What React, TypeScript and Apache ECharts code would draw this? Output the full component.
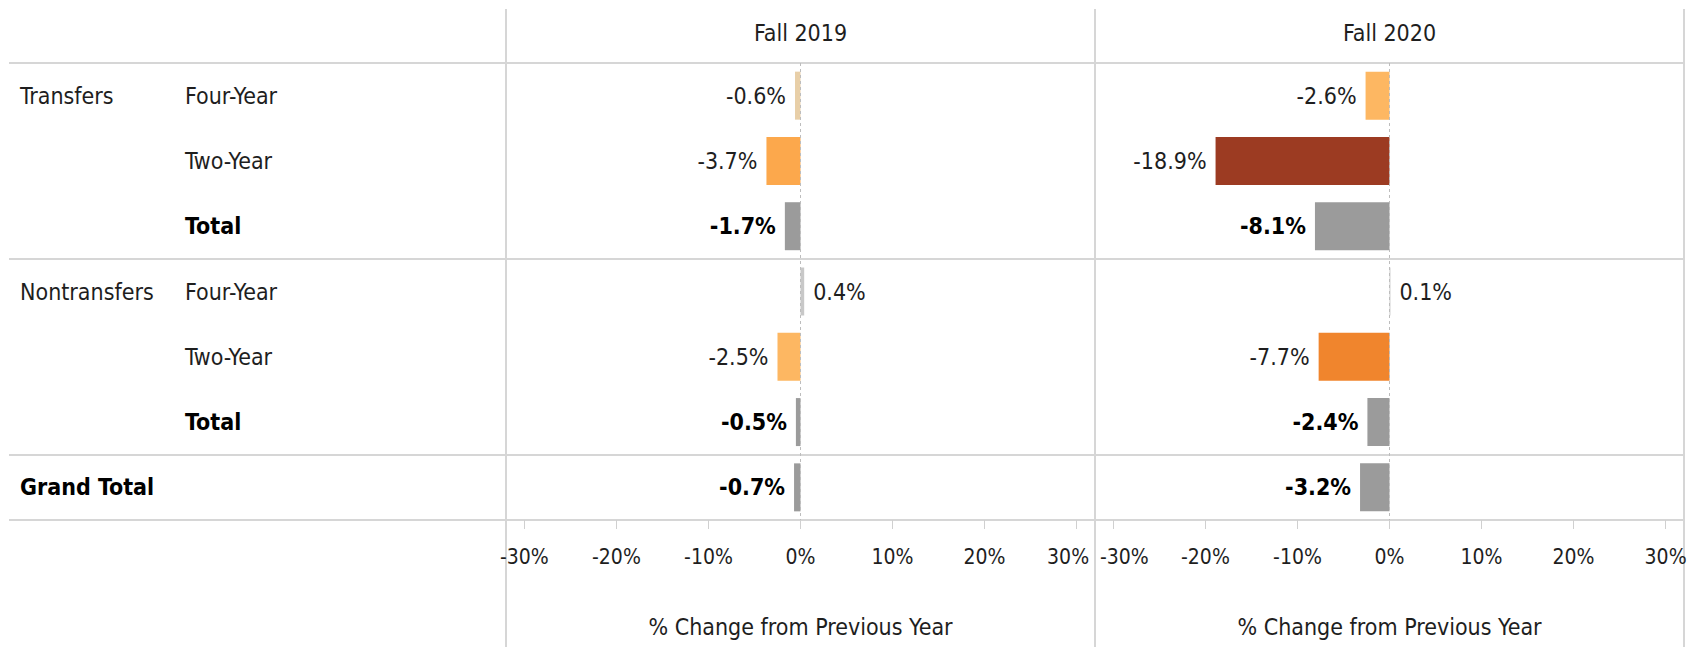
import React, { useEffect, useRef } from "react";
import * as echarts from "echarts";

const groupLabels = ["Transfers", "", "", "Nontransfers", "", "", "Grand Total"];
const subLabels = ["Four-Year", "Two-Year", "Total", "Four-Year", "Two-Year", "Total", ""];
const periods = ["Fall 2019", "Fall 2020"];
const fall2019 = [-0.6, -3.7, -1.7, 0.4, -2.5, -0.5, -0.7];
const fall2020 = [-2.6, -18.9, -8.1, 0.1, -7.7, -2.4, -3.2];
const tickValues = [-30, -20, -10, 0, 10, 20, 30];
const axisTitle = "% Change from Previous Year";

const FONT = '"Liberation Sans Narrow", "DejaVu Sans Condensed", "DejaVu Sans", sans-serif';
const FS = 23;
const TICK_FS = 21;
const TXT = "#1e1e1e";
const LINE = "#d6d6d6";

const W = 1692;
const H = 647;
const GRID_TOP = 63;
const GRID_BOTTOM = 520;
const PANEL_LEFT = 506;
const PANEL_W = 589;

const isTotalRow = (i: number) => subLabels[i] === "Total" || groupLabels[i] === "Grand Total";

function colorFor(v: number, total: boolean) {
  if (total) return "#9b9b9b";
  if (v >= 0) return "#c8c8c8";
  if (v > -1) return "#e8cfa8";
  if (v > -3) return "#fdb762";
  if (v > -5) return "#fca84c";
  if (v > -10) return "#f0852d";
  return "#9c3b22";
}

export default function App() {
  const ref = useRef<HTMLDivElement>(null);
  useEffect(() => {
    if (!ref.current) return;
    const chart = echarts.init(ref.current, undefined, { renderer: "svg" });
    const cats = groupLabels.map((_, i) => String(i));
    const rowH = (GRID_BOTTOM - GRID_TOP) / cats.length;
    const seriesData = [fall2019, fall2020];
    const tMin = tickValues[0];
    const tMax = tickValues[tickValues.length - 1];

    const grids = periods.map((_, p) => ({
      left: PANEL_LEFT + p * PANEL_W,
      width: PANEL_W,
      top: GRID_TOP,
      height: GRID_BOTTOM - GRID_TOP,
    }));

    const tickStyle = { fontFamily: FONT, fontSize: TICK_FS, color: TXT };

    const xAxes = periods.map((_, p) => ({
      gridIndex: p,
      type: "value",
      min: -32,
      max: 32,
      axisLine: { show: false },
      splitLine: { show: false },
      axisTick: { show: true, customValues: tickValues, length: 9, lineStyle: { color: "#d0d0d0", width: 1 } },
      axisLabel: {
        customValues: tickValues,
        formatter: (v: number) => {
          if (p === 0 && v === tMax) return `{r|${v}%}`;
          if (p === 1 && v === tMin) return `{l|${v}%}`;
          return `{n|${v}%}`;
        },
        rich: {
          n: tickStyle,
          r: { ...tickStyle, padding: [0, 17, 0, 0] },
          l: { ...tickStyle, padding: [0, 0, 0, 22] },
        },
        margin: 26,
        ...tickStyle,
      },
      name: axisTitle,
      nameLocation: "middle",
      nameGap: 95,
      nameTextStyle: { fontFamily: FONT, fontSize: FS, color: TXT },
    }));

    const yAxes = periods.map((_, p) => ({
      gridIndex: p,
      type: "category",
      data: cats,
      inverse: true,
      axisLine: { show: false },
      axisTick: { show: false },
      splitLine: { show: false },
      axisLabel:
        p === 0
          ? {
              show: true,
              interval: 0,
              align: "left",
              margin: PANEL_LEFT - 20,
              formatter: (_v: string, idx: number) => {
                const g = groupLabels[idx] || " ";
                const s = subLabels[idx];
                const gs = g === "Grand Total" ? "gb" : "g";
                const ss = s === "Total" ? "sb" : "s";
                return s ? `{${gs}|${g}}{${ss}|${s}}` : `{${gs}|${g}}`;
              },
              rich: {
                g: { width: 165, fontFamily: FONT, fontSize: FS, color: TXT },
                gb: { width: 165, fontFamily: FONT, fontSize: FS, color: "#000", fontWeight: "bold" },
                s: { fontFamily: FONT, fontSize: FS, color: TXT },
                sb: { fontFamily: FONT, fontSize: FS, color: "#000", fontWeight: "bold" },
              },
            }
          : { show: false },
    }));

    const series = periods.map((name, p) => ({
      type: "bar",
      name,
      xAxisIndex: p,
      yAxisIndex: p,
      barWidth: 48,
      data: seriesData[p].map((v, i) => {
        const total = isTotalRow(i);
        return {
          value: v,
          itemStyle: { color: colorFor(v, total) },
          label: {
            show: true,
            position: v >= 0 ? "right" : "left",
            distance: 9,
            formatter: `${v.toFixed(1)}%`,
            fontFamily: FONT,
            fontSize: FS,
            color: total ? "#000" : TXT,
            fontWeight: total ? "bold" : "normal",
          },
        };
      }),
      markLine: {
        silent: true,
        symbol: "none",
        label: { show: false },
        lineStyle: { type: [3, 3], color: "#bdbdbd", width: 1 },
        data: [{ xAxis: 0 }],
      },
    }));

    const hLines = [GRID_TOP, GRID_TOP + 3 * rowH, GRID_TOP + 6 * rowH, GRID_BOTTOM].map((y) => ({
      type: "line",
      shape: { x1: 9, y1: Math.round(y), x2: PANEL_LEFT + 2 * PANEL_W, y2: Math.round(y) },
      style: { stroke: LINE, lineWidth: 2 },
      z: 0,
    }));
    const vLines = [0, 1, 2].map((k) => ({
      type: "line",
      shape: { x1: PANEL_LEFT + k * PANEL_W, y1: 9, x2: PANEL_LEFT + k * PANEL_W, y2: H },
      style: { stroke: LINE, lineWidth: 2 },
      z: 0,
    }));
    const headers = periods.map((name, p) => ({
      type: "text",
      x: PANEL_LEFT + p * PANEL_W + PANEL_W / 2,
      y: 33,
      style: {
        text: name,
        fontFamily: FONT,
        fontSize: FS,
        fill: TXT,
        textAlign: "center",
        textVerticalAlign: "middle",
      },
    }));

    chart.setOption({
      animation: false,
      backgroundColor: "#ffffff",
      grid: grids,
      xAxis: xAxes,
      yAxis: yAxes,
      series,
      graphic: [...hLines, ...vLines, ...headers],
    } as any);
    return () => chart.dispose();
  }, []);
  return <div ref={ref} style={{ position: "fixed", left: 0, top: 0, width: W, height: H }} />;
}
